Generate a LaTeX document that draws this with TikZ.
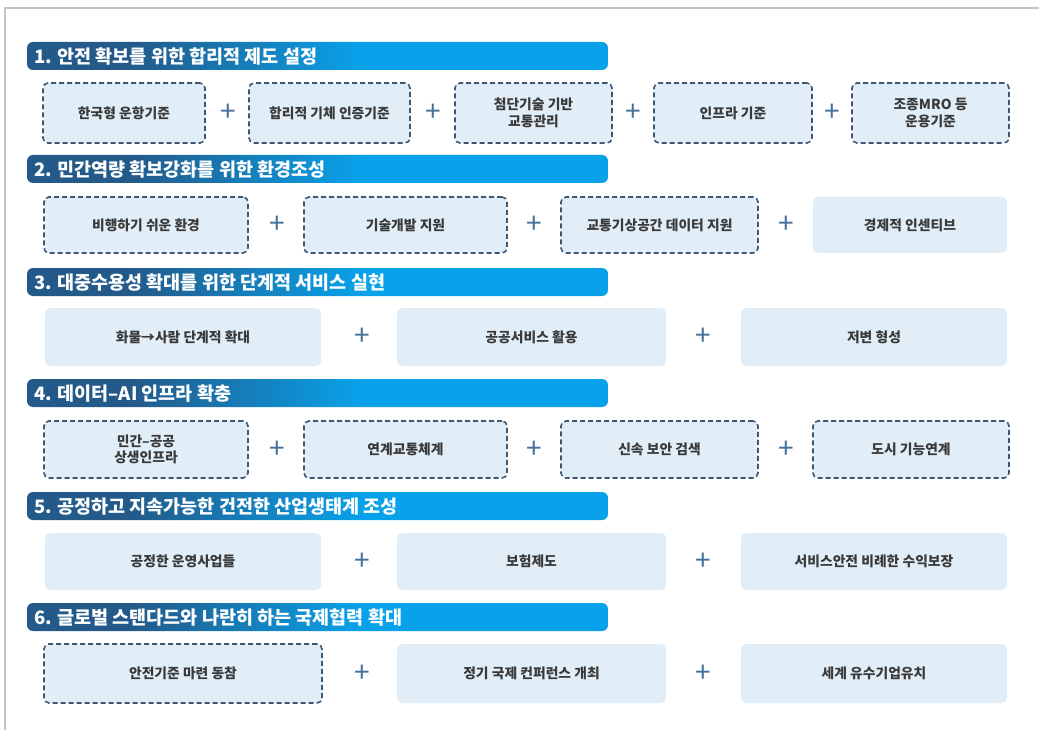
\documentclass[tikz,border=0pt]{standalone}
\usepackage{fontspec}
\setmainfont{Noto Sans CJK KR}
\definecolor{hdark}{HTML}{235A8A}
\definecolor{hbright}{HTML}{08A2EA}
\definecolor{boxfill}{HTML}{E2EEF7}
\definecolor{dashcol}{HTML}{3E5775}
\definecolor{pluscol}{HTML}{46709C}
\definecolor{txtcol}{HTML}{3A3A3A}
\definecolor{framecol}{HTML}{C4C4C4}
\pgfdeclarehorizontalshading{hdrshade}{100bp}{color(0bp)=(hdark); color(34bp)=(hdark); color(54bp)=(hbright); color(100bp)=(hbright)}
\tikzset{
  hdrbar/.style={shading=hdrshade, rounded corners=6pt},
  hdrtext/.style={anchor=west, text=white, font=\fontsize{18.5}{18.5}\selectfont\bfseries, inner sep=0pt},
  boxbase/.style={fill=boxfill, rounded corners=5pt, align=center, text=txtcol,
    font=\fontsize{13.8}{16.5}\selectfont\bfseries, inner sep=0pt},
  dbox/.style={boxbase, draw=dashcol, line width=1.6pt, dash pattern=on 5pt off 3pt},
  sbox/.style={boxbase},
  plussign/.style={text=pluscol, font=\fontsize{28}{28}\selectfont, inner sep=0pt}
}
\begin{document}
\begin{tikzpicture}[x=1pt,y=-1pt]
\useasboundingbox (0,0) rectangle (1039,730);
\fill[white] (0,0) rectangle (1039,730);
% frame
\draw[framecol, line width=1.2pt] (5,730) -- (5,8) -- (1039,8);

% headers
\foreach \t/\lab [count=\i] in {42/{1. 안전 확보를 위한 합리적 제도 설정},
  155/{2. 민간역량 확보강화를 위한 환경조성},
  268/{3. 대중수용성 확대를 위한 단계적 서비스 실현},
  379/{4. 데이터–AI 인프라 확충},
  492/{5. 공정하고 지속가능한 건전한 산업생태계 조성},
  603/{6. 글로벌 스탠다드와 나란히 하는 국제협력 확대}}{
  \shade[hdrbar] (27,\t) rectangle (608,\t+28);
  \node[hdrtext] (h\i) at (34,\t+14.5) {\lab};
}

% row 1
\node[dbox, minimum width=162, minimum height=60] (b11) at (124,113) {한국형 운항기준};
\node[dbox, minimum width=161, minimum height=60] (b12) at (329.5,113) {합리적 기체 인증기준};
\node[dbox, minimum width=157, minimum height=60] (b13) at (533.5,113) {첨단기술 기반\\교통관리};
\node[dbox, minimum width=158, minimum height=60] (b14) at (733,113) {인프라 기준};
\node[dbox, minimum width=157, minimum height=60] (b15) at (930.5,113) {조종MRO 등\\운용기준};
\node[plussign] (p11) at (228,113) {+};
\node[plussign] (p12) at (433,113) {+};
\node[plussign] (p13) at (633,113) {+};
\node[plussign] (p14) at (832,113) {+};

% row 2
\node[dbox, minimum width=204, minimum height=56] (b21) at (146,225) {비행하기 쉬운 환경};
\node[dbox, minimum width=203, minimum height=56] (b22) at (405.5,225) {기술개발 지원};
\node[dbox, minimum width=197, minimum height=56] (b23) at (659.5,225) {교통기상공간 데이터 지원};
\node[sbox, minimum width=194, minimum height=56] (b24) at (910,225) {경제적 인센티브};
\node[plussign] (p21) at (277,225) {+};
\node[plussign] (p22) at (534,225) {+};
\node[plussign] (p23) at (786,225) {+};

% row 3
\node[sbox, minimum width=276, minimum height=58] (b31) at (183,337) {화물→사람 단계적 확대};
\node[sbox, minimum width=269, minimum height=58] (b32) at (531.5,337) {공공서비스 활용};
\node[sbox, minimum width=266, minimum height=58] (b33) at (874,337) {저변 형성};
\node[plussign] (p31) at (362,337) {+};
\node[plussign] (p32) at (703,337) {+};

% row 4
\node[dbox, minimum width=204, minimum height=57] (b41) at (146,449.5) {민간–공공\\상생인프라};
\node[dbox, minimum width=203, minimum height=57] (b42) at (405.5,449.5) {연계교통체계};
\node[dbox, minimum width=197, minimum height=57] (b43) at (659.5,449.5) {신속 보안 검색};
\node[dbox, minimum width=196, minimum height=57] (b44) at (911,449.5) {도시 기능연계};
\node[plussign] (p41) at (277,449.5) {+};
\node[plussign] (p42) at (534,449.5) {+};
\node[plussign] (p43) at (786,449.5) {+};

% row 5
\node[sbox, minimum width=276, minimum height=57] (b51) at (183,561.5) {공정한 운영사업들};
\node[sbox, minimum width=269, minimum height=57] (b52) at (531.5,561.5) {보험제도};
\node[sbox, minimum width=266, minimum height=57] (b53) at (874,561.5) {서비스안전 비례한 수익보장};
\node[plussign] (p51) at (362,561.5) {+};
\node[plussign] (p52) at (703,561.5) {+};

% row 6
\node[dbox, minimum width=278, minimum height=59] (b61) at (183,673.5) {안전기준 마련 동참};
\node[sbox, minimum width=269, minimum height=59] (b62) at (531.5,673.5) {정기 국제 컨퍼런스 개최};
\node[sbox, minimum width=266, minimum height=59] (b63) at (874,673.5) {세계 유수기업유치};
\node[plussign] (p61) at (362,673.5) {+};
\node[plussign] (p62) at (703,673.5) {+};
\end{tikzpicture}
\end{document}
